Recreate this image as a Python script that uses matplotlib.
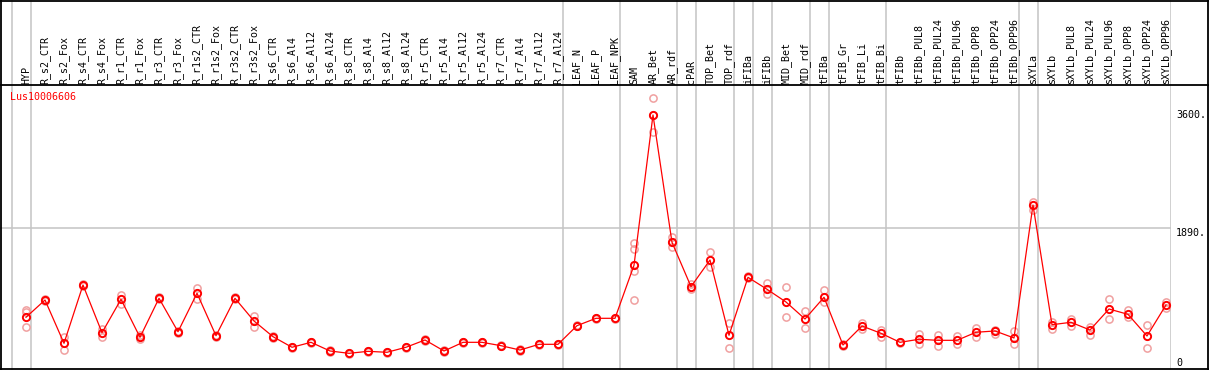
import matplotlib
matplotlib.use("Agg")
import matplotlib.pyplot as plt
from matplotlib.lines import Line2D
from matplotlib.transforms import blended_transform_factory

categories = ["HYP", "R_s2_CTR", "R_s2_Fox", "R_s4_CTR", "R_s4_Fox", "R_r1_CTR", "R_r1_Fox",
              "R_r3_CTR", "R_r3_Fox", "R_r1s2_CTR", "R_r1s2_Fox", "R_r3s2_CTR", "R_r3s2_Fox",
              "R_s6_CTR", "R_s6_Al4", "R_s6_Al12", "R_s6_Al24", "R_s8_CTR", "R_s8_Al4",
              "R_s8_Al12", "R_s8_Al24", "R_r5_CTR", "R_r5_Al4", "R_r5_Al12", "R_r5_Al24",
              "R_r7_CTR", "R_r7_Al4", "R_r7_Al12", "R_r7_Al24", "LEAF_N", "LEAF_P", "LEAF_NPK",
              "SAM", "AR_Bet", "AR_rdf", "cPAR", "TOP_Bet", "TOP_rdf", "iFIBa", "iFIBb",
              "MID_Bet", "MID_rdf", "tFIBa", "tFIB_Gr", "tFIB_Li", "tFIB_Bi", "tFIBb",
              "tFIBb_PUL8", "tFIBb_PUL24", "tFIBb_PUL96", "tFIBb_OPP8", "tFIBb_OPP24",
              "tFIBb_OPP96", "sXYLa", "sXYLb", "sXYLb_PUL8", "sXYLb_PUL24", "sXYLb_PUL96",
              "sXYLb_OPP8", "sXYLb_OPP24", "sXYLb_OPP96"]

means = [592, 843, 214, 1061, 368, 853, 301, 868, 382, 941, 324, 868, 538,
         310, 156, 228, 102, 68, 97, 83, 156, 262, 102, 228, 228, 179, 116, 199, 199,
         470, 577, 577, 1348, 3533, 1682, 1037, 1425, 330, 1173, 999, 814, 567, 883,
         189, 465, 359, 228, 272, 257, 257, 374, 393, 291, 2224, 484, 519, 407, 712,
         635, 320, 771]

replicates = [
    [698, 669, 451], [858, 828], [310, 116], [1076, 1046], [417, 310], [916, 785],
    [334, 276], [882, 854], [397, 359], [1022, 858], [338, 310], [882, 854], [611, 446],
    [322, 298], [166, 146], [238, 218], [110, 94], [76, 60], [105, 89], [91, 75],
    [164, 148], [272, 252], [110, 94], [238, 218], [238, 218], [187, 171], [124, 108],
    [207, 191], [207, 191], [480, 460], [587, 567], [587, 567],
    [1668, 1585, 1269, 843], [3776, 3533, 3290], [1764, 1682, 1618], [1076, 1003],
    [1537, 1319], [505, 141], [1185, 1161], [1086, 926], [1028, 592], [688, 432],
    [989, 810], [199, 179], [513, 426], [407, 310], [238, 218], [349, 204], [334, 179],
    [320, 204], [441, 310], [407, 349], [393, 199], [2272, 2152], [528, 417], [563, 470],
    [455, 334], [858, 567], [698, 592], [480, 141], [819, 723],
]

group_ends = [-1, 0, 28, 31, 34, 35, 37, 38, 39, 41, 42, 45, 52, 53, 60]
ytick_values = [3600, 1890, 0]
ytick_labels = ["3600.", "1890.", "0"]
gene_name = "Lus10006606"

W, H = 1209, 370
fig = plt.figure(figsize=(W / 100, H / 100), dpi=100)
fig.patch.set_facecolor("white")

MONO = "DejaVu Sans Mono"
FS = 7.2
RED = "#ff0000"
PINK = "#f0a0a0"
GRAY = "#c4c4c4"

# pixel geometry
x0_px, dx_px = 26.0, 19.0
left_px, right_px = 0.0, 1170.7
xlim = ((left_px - x0_px) / dx_px, (right_px - x0_px) / dx_px)
zero_py, scale = 358.0, 130.0 / 1890.0
top_py, bot_py = 85.0, 370.0
ylim = ((zero_py - bot_py) / scale, (zero_py - top_py) / scale)

# background axes spanning full height (group separators + header labels)
bg = fig.add_axes([left_px / W, 0, (right_px - left_px) / W, 1], zorder=0)
bg.set_xlim(*xlim)
bg.set_ylim(0, 1)
bg.axis("off")
for g in group_ends:
    bg.axvline(g + 0.25, color=GRAY, lw=1.1, zorder=0)
for i, c in enumerate(categories):
    bg.text(i, (H - 84.0) / H, c, rotation=90, ha="center", va="bottom",
            fontsize=FS, family=MONO, color="black")

# main data axes
ax = fig.add_axes([left_px / W, 0, (right_px - left_px) / W, (bot_py - top_py) / H], zorder=1)
ax.patch.set_visible(False)
ax.set_xlim(*xlim)
ax.set_ylim(*ylim)
ax.axis("off")
ax.axhline(1890, color=GRAY, lw=1.1, zorder=0)

for i, reps in enumerate(replicates):
    ax.plot([i] * len(reps), reps, linestyle="none", marker="o", markersize=5.2,
            markerfacecolor="none", markeredgecolor=PINK, markeredgewidth=1.1, zorder=2)
ax.plot(range(len(means)), means, color=RED, lw=0.9, zorder=3)
ax.plot(range(len(means)), means, linestyle="none", marker="o", markersize=5.2,
        markerfacecolor="none", markeredgecolor=RED, markeredgewidth=1.4, zorder=4)

# right-side value labels
tr = blended_transform_factory(fig.transFigure, ax.transData)
for v, lab in zip(ytick_values, ytick_labels):
    ax.text(1176 / W, v, lab, transform=tr, ha="left", va="top", fontsize=FS,
            family=MONO, color="black", clip_on=False)

# gene name
fig.text(10 / W, 1 - 96.5 / H, gene_name, ha="left", va="center", fontsize=FS,
         family=MONO, color=RED)

# black border and header separator
def hline(py, x1=0.0, x2=W, lw=1.3):
    fig.add_artist(Line2D([x1 / W, x2 / W], [1 - py / H, 1 - py / H], color="black", lw=lw))

def vline(px, y1=0.0, y2=H, lw=1.3):
    fig.add_artist(Line2D([px / W, px / W], [1 - y1 / H, 1 - y2 / H], color="black", lw=lw))

hline(85.0)
hline(0.6)
hline(368.6)
vline(0.6)
vline(1207.6)

fig.savefig("out.png", dpi=100)
